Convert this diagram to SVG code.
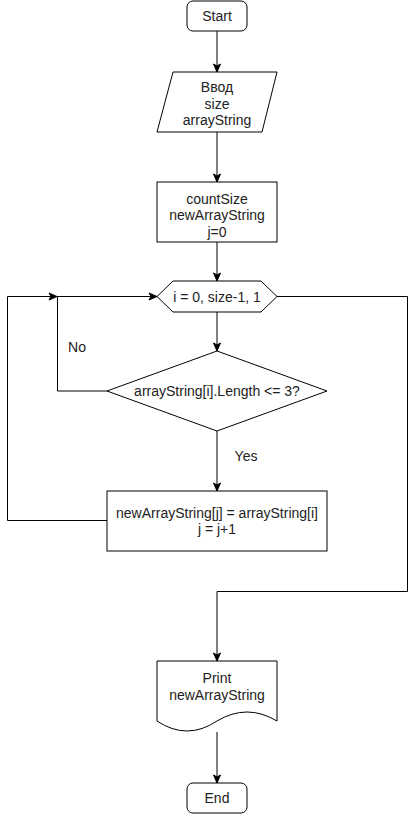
<svg xmlns="http://www.w3.org/2000/svg" width="416" height="815" viewBox="0 0 416 815">
<defs>
<style>
.s{fill:#fff;stroke:#000;stroke-width:1}
.c{fill:none;stroke:#000;stroke-width:1}
text{font-family:"Liberation Sans",Arial,Helvetica,sans-serif;font-size:14px;fill:#222;text-anchor:middle}
</style>
<marker id="a" markerUnits="userSpaceOnUse" markerWidth="10" markerHeight="10" viewBox="0 0 10 10" refX="9" refY="5" orient="auto">
<path d="M1,1.5 L9,5 L1,8.5 L3,5 Z" fill="#000" stroke="#000" stroke-width="1"/>
</marker>
</defs>
<rect width="416" height="815" fill="#fff"/>
<g id="connectors">
<path class="c" d="M217,31 V72" marker-end="url(#a)"/>
<path class="c" d="M217,132 V182" marker-end="url(#a)"/>
<path class="c" d="M217,242 V281" marker-end="url(#a)"/>
<path class="c" d="M217,312 V351" marker-end="url(#a)"/>
<path class="c" d="M217,431 V491" marker-end="url(#a)"/>
<path class="c" d="M107,391 H57.5 V296.5 H157" marker-end="url(#a)"/>
<path class="c" d="M107,520.5 H7.5 V296.5 H57" marker-end="url(#a)"/>
<path class="c" d="M277,296.5 H407.5 V591.5 H217 V661" marker-end="url(#a)"/>
<path class="c" d="M217,732 V783" marker-end="url(#a)"/>
<text x="77" y="352">No</text>
<text x="246" y="461">Yes</text>
</g>
<g id="start">
<rect class="s" x="187" y="1" width="60" height="30" rx="6" ry="6"/>
<text x="217" y="21">Start</text>
</g>
<g id="input">
<path class="s" d="M173,72 H277 L262,132 H157 Z"/>
<text x="217" y="92">Ввод</text>
<text x="217" y="108.5">size</text>
<text x="217" y="125">arrayString</text>
</g>
<g id="init">
<rect class="s" x="157" y="182" width="120" height="60"/>
<text x="217" y="203.5">countSize</text>
<text x="217" y="220">newArrayString</text>
<text x="217" y="236.5">j=0</text>
</g>
<g id="loop">
<path class="s" d="M157,296.5 L173,281 H261 L277,296.5 L261,312 H173 Z"/>
<text x="217" y="302">i = 0, size-1, 1</text>
</g>
<g id="decision">
<path class="s" d="M217,351 L327,391 L217,431 L107,391 Z"/>
<text x="217" y="396">arrayString[i].Length &lt;= 3?</text>
</g>
<g id="assign">
<rect class="s" x="107" y="491" width="220" height="60"/>
<text x="217" y="518">newArrayString[j] = arrayString[i]</text>
<text x="217" y="534">j = j+1</text>
</g>
<g id="print">
<path class="s" d="M157,661 H277 V721 Q247,703 217,721 Q187,741 157,721 Z"/>
<text x="217" y="683">Print</text>
<text x="217" y="700">newArrayString</text>
</g>
<g id="end">
<rect class="s" x="187" y="783" width="60" height="30" rx="6" ry="6"/>
<text x="217" y="803">End</text>
</g>
</svg>
